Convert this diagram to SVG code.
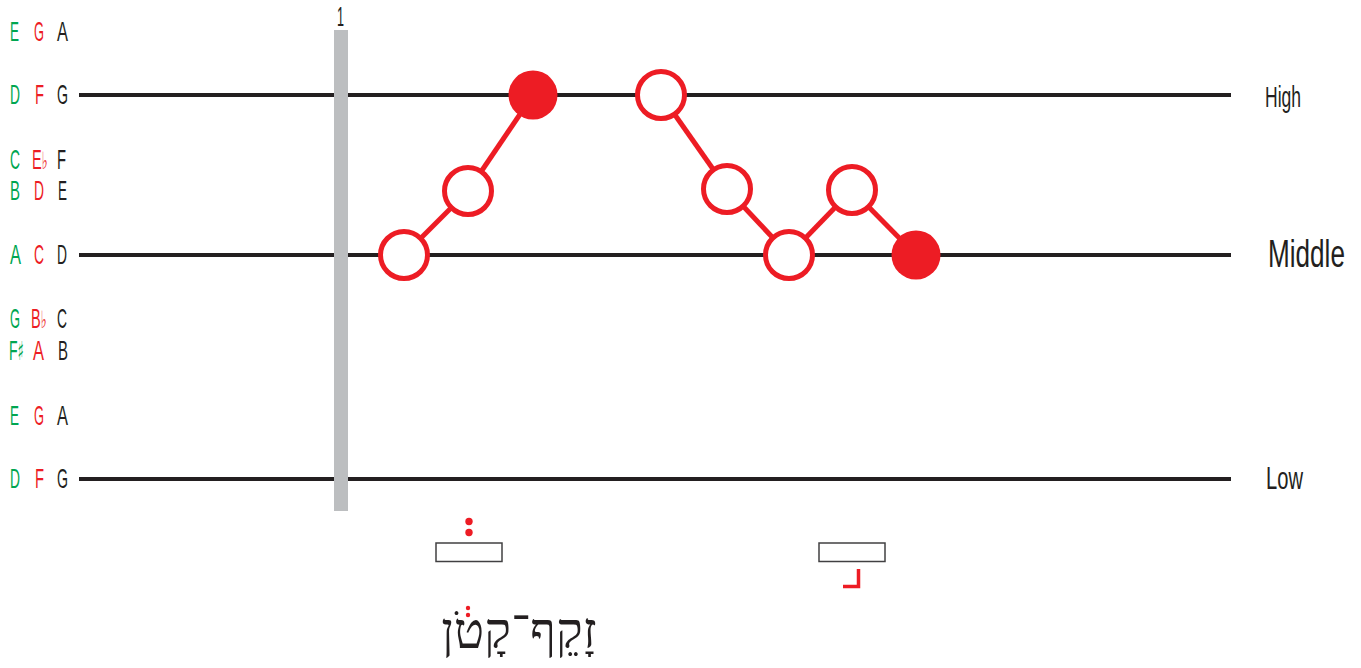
<svg xmlns="http://www.w3.org/2000/svg" width="1361" height="668" viewBox="0 0 1361 668">
<style>
.lbl{font-family:"Liberation Sans",Arial,sans-serif;font-size:28px;}
.g{fill:#00a651;} .r{fill:#ed1c24;} .k{fill:#231f20;}
.acc{font-family:"DejaVu Sans",sans-serif;}
.staff{stroke:#231f20;stroke-width:4;fill:none;}
.open{fill:#fff;stroke:#ed1c24;stroke-width:5;}
.fill{fill:#ed1c24;stroke:none;}
.conn{stroke:#ed1c24;stroke-width:5;fill:none;}
.box{fill:#fff;stroke:#414042;stroke-width:1.5;}
</style>
<rect width="1361" height="668" fill="#fff"/>
<g id="staff-lines">
<line class="staff" x1="79" y1="95" x2="1231" y2="95"/>
<line class="staff" x1="79" y1="255" x2="1231" y2="255"/>
<line class="staff" x1="79" y1="479" x2="1231" y2="479"/>
</g>
<g id="bar">
<rect x="334" y="30" width="14" height="481" fill="#bcbec0"/>
<text class="lbl k" x="337" y="26" font-size="27" textLength="7" lengthAdjust="spacingAndGlyphs">1</text>
</g>
<g id="pitch-labels" class="lbl">
<text class="g" x="10" y="40.5" textLength="9" lengthAdjust="spacingAndGlyphs">E</text>
<text class="r" x="34" y="40.5" textLength="10" lengthAdjust="spacingAndGlyphs">G</text>
<text class="k" x="57" y="40.5" textLength="11" lengthAdjust="spacingAndGlyphs">A</text>

<text class="g" x="10" y="104" textLength="10" lengthAdjust="spacingAndGlyphs">D</text>
<text class="r" x="35" y="104" textLength="9" lengthAdjust="spacingAndGlyphs">F</text>
<text class="k" x="57" y="104" textLength="11" lengthAdjust="spacingAndGlyphs">G</text>

<text class="g" x="10" y="169" textLength="10" lengthAdjust="spacingAndGlyphs">C</text>
<text class="r" transform="translate(32 169) scale(0.52 1)">E<tspan class="acc" font-size="24">♭</tspan></text>
<text class="k" x="57" y="169" textLength="9" lengthAdjust="spacingAndGlyphs">F</text>

<text class="g" x="10" y="200" textLength="10" lengthAdjust="spacingAndGlyphs">B</text>
<text class="r" x="34" y="200" textLength="10" lengthAdjust="spacingAndGlyphs">D</text>
<text class="k" x="58" y="200" textLength="9" lengthAdjust="spacingAndGlyphs">E</text>

<text class="g" x="10" y="264" textLength="11" lengthAdjust="spacingAndGlyphs">A</text>
<text class="r" x="34" y="264" textLength="10" lengthAdjust="spacingAndGlyphs">C</text>
<text class="k" x="57" y="264" textLength="10" lengthAdjust="spacingAndGlyphs">D</text>

<text class="g" x="10" y="328" textLength="10" lengthAdjust="spacingAndGlyphs">G</text>
<text class="r" transform="translate(31 328) scale(0.52 1)">B<tspan class="acc" font-size="24">♭</tspan></text>
<text class="k" x="57" y="328" textLength="10" lengthAdjust="spacingAndGlyphs">C</text>

<text class="g" transform="translate(9 360) scale(0.5 1)">F<tspan class="acc" font-size="26">♯</tspan></text>
<text class="r" x="33" y="360" textLength="11" lengthAdjust="spacingAndGlyphs">A</text>
<text class="k" x="58" y="360" textLength="10" lengthAdjust="spacingAndGlyphs">B</text>

<text class="g" x="10" y="425" textLength="9" lengthAdjust="spacingAndGlyphs">E</text>
<text class="r" x="34" y="425" textLength="10" lengthAdjust="spacingAndGlyphs">G</text>
<text class="k" x="57" y="425" textLength="11" lengthAdjust="spacingAndGlyphs">A</text>

<text class="g" x="10" y="488" textLength="10" lengthAdjust="spacingAndGlyphs">D</text>
<text class="r" x="35" y="488" textLength="9" lengthAdjust="spacingAndGlyphs">F</text>
<text class="k" x="57" y="488" textLength="11" lengthAdjust="spacingAndGlyphs">G</text>
</g>
<g id="level-labels" class="lbl k">
<text transform="translate(1265 107) scale(0.604 1)" font-size="29">High</text>
<text transform="translate(1268 267) scale(0.67 1)" font-size="39">Middle</text>
<text transform="translate(1266 489) scale(0.65 1)" font-size="31">Low</text>
</g>
<g id="connectors">
<line class="conn" x1="404" y1="255" x2="468" y2="191"/>
<line class="conn" x1="468" y1="191" x2="533" y2="95"/>
<line class="conn" x1="661" y1="95" x2="727" y2="189"/>
<line class="conn" x1="727" y1="189" x2="789" y2="255"/>
<line class="conn" x1="789" y1="255" x2="852" y2="190"/>
<line class="conn" x1="852" y1="190" x2="916" y2="255"/>
</g>
<g id="n1"><circle class="open" cx="404" cy="255" r="23.5"/></g>
<g id="n2"><circle class="open" cx="468" cy="191" r="23.5"/></g>
<g id="n3"><circle class="fill" cx="533" cy="95" r="24.5"/></g>
<g id="n4"><circle class="open" cx="661" cy="95" r="23.5"/></g>
<g id="n5"><circle class="open" cx="727" cy="189" r="23.5"/></g>
<g id="n6"><circle class="open" cx="789" cy="255" r="23.5"/></g>
<g id="n7"><circle class="open" cx="852" cy="190" r="23.5"/></g>
<g id="n8"><circle class="fill" cx="916" cy="255" r="24.5"/></g>
<g id="word1">
<circle cx="469" cy="521.5" r="3.7" fill="#ed1c24"/>
<circle cx="469" cy="532.5" r="3.7" fill="#ed1c24"/>
<rect class="box" x="436" y="543" width="66" height="18.5"/>
</g>
<g id="word2">
<rect class="box" x="819" y="543" width="66" height="18.5"/>
<path d="M858.5 569 V586.5 H843" fill="none" stroke="#ed1c24" stroke-width="3.5"/>
</g>
<g id="hebrew">
<text x="519" y="648" font-family="Liberation Serif, serif" font-size="50" text-anchor="middle" direction="rtl" fill="#231f20">זָקֵף־קָטֹן</text>
<circle cx="468" cy="608" r="2.2" fill="#ed1c24"/>
<circle cx="468" cy="615" r="2.2" fill="#ed1c24"/>
</g>
</svg>
